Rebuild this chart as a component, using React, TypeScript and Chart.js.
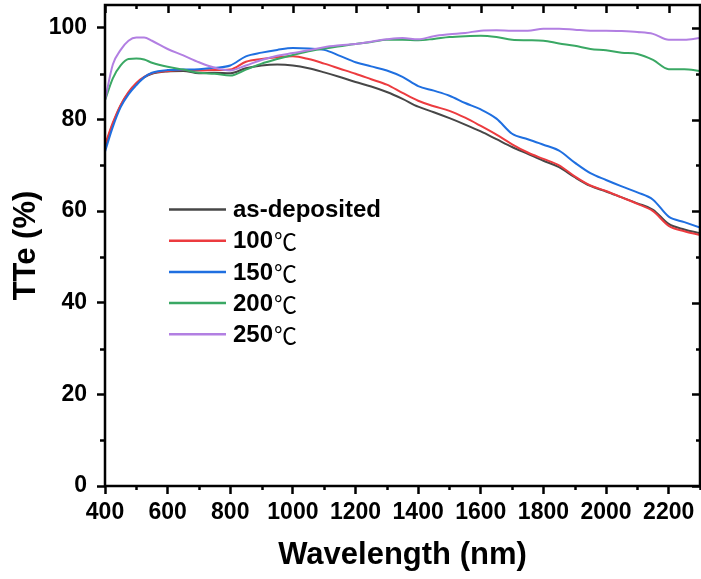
import React, { useEffect, useRef } from 'react';
import { Chart, registerables } from 'chart.js';

Chart.register(...registerables);

const wavelengths = [400, 425, 450, 475, 500, 525, 550, 600, 650, 700, 750, 800, 850, 900, 950, 1000, 1050, 1100, 1150, 1200, 1250, 1300, 1350, 1400, 1450, 1500, 1550, 1600, 1650, 1700, 1750, 1800, 1850, 1900, 1950, 2000, 2050, 2100, 2150, 2200, 2250, 2300];

const asDeposited = [74, 79, 83, 85.8, 87.8, 89.2, 90.0, 90.5, 90.6, 90.1, 90.2, 90.1, 91.2, 91.8, 92.0, 91.8, 91.2, 90.3, 89.3, 88.2, 87.2, 86.0, 84.5, 82.8, 81.6, 80.3, 78.9, 77.4, 75.7, 74.0, 72.5, 71.0, 69.6, 67.4, 65.5, 64.3, 63.0, 61.7, 60.3, 57.2, 56.0, 55.2];
const annealed100 = [74.5, 79.3, 83.2, 86.0, 88.0, 89.3, 90.1, 90.6, 90.8, 90.7, 90.8, 90.9, 92.6, 93.2, 93.6, 93.8, 93.2, 92.2, 91.1, 90.0, 88.8, 87.6, 85.8, 84.1, 82.9, 81.9, 80.4, 78.6, 76.7, 74.6, 72.8, 71.4, 70.0, 67.6, 65.6, 64.4, 63.0, 61.6, 60.0, 56.8, 55.6, 54.8];
const annealed150 = [73.0, 78.4, 82.7, 85.5, 87.5, 89.2, 90.2, 90.8, 90.9, 91.0, 91.3, 91.8, 93.8, 94.6, 95.2, 95.6, 95.5, 95.2, 93.9, 92.5, 91.6, 90.7, 89.3, 87.3, 86.3, 85.2, 83.6, 82.2, 80.2, 76.9, 75.7, 74.5, 73.2, 70.6, 68.3, 66.8, 65.4, 64.1, 62.5, 58.8, 57.6, 56.4];
const annealed200 = [84.2, 89.0, 91.8, 93.2, 93.3, 93.1, 92.4, 91.5, 90.9, 90.2, 90.0, 89.6, 90.9, 92.2, 93.2, 94.1, 94.9, 95.5, 96.0, 96.5, 96.9, 97.4, 97.4, 97.3, 97.6, 98.0, 98.2, 98.3, 98.0, 97.4, 97.3, 97.2, 96.6, 96.1, 95.4, 95.1, 94.6, 94.3, 93.0, 91.0, 91.0, 90.6];
const annealed250 = [84.2, 92.0, 95.2, 97.2, 97.9, 97.9, 97.2, 95.4, 94.0, 92.5, 91.3, 90.7, 91.8, 93.0, 93.9, 94.5, 95.1, 95.8, 96.2, 96.5, 97.0, 97.5, 97.8, 97.5, 98.2, 98.6, 98.9, 99.4, 99.5, 99.4, 99.4, 99.8, 99.8, 99.6, 99.4, 99.4, 99.3, 99.1, 98.7, 97.4, 97.4, 97.8];

const seriesNames = ['as-deposited', '100', '150', '200', '250'];
const seriesUnits = ['', '℃', '℃', '℃', '℃'];
const seriesValues = [asDeposited, annealed100, annealed150, annealed200, annealed250];
const seriesColors = ['#474747', '#ec3b3f', '#1f6fe0', '#3aa864', '#b27fe2'];

const xTickValues = [400, 600, 800, 1000, 1200, 1400, 1600, 1800, 2000, 2200];
const xMinorValues = [500, 700, 900, 1100, 1300, 1500, 1700, 1900, 2100, 2300];
const yTickValues = [0, 20, 40, 60, 80, 100];
const yMinorValues = [10, 30, 50, 70, 90];

const xTitle = 'Wavelength (nm)';
const yTitle = 'TTe (%)';

const FONT = "'Liberation Sans', Arial, Helvetica, sans-serif";

const framePlugin = {
  id: 'frameTicks',
  afterDraw(chart: any) {
    const { ctx, chartArea } = chart;
    const { left, right, top, bottom } = chartArea;
    const xs = chart.scales.x;
    const ys = chart.scales.y;
    ctx.save();
    ctx.strokeStyle = '#000';
    ctx.lineWidth = 2.5;
    ctx.lineCap = 'butt';
    ctx.beginPath();
    xTickValues.forEach((v) => {
      const px = Math.round(xs.getPixelForValue(v)) + 0.5;
      ctx.moveTo(px, top);
      ctx.lineTo(px, top + 8);
    });
    xMinorValues.forEach((v) => {
      const px = Math.round(xs.getPixelForValue(v)) + 0.5;
      ctx.moveTo(px, top);
      ctx.lineTo(px, top + 4);
      ctx.moveTo(px, bottom);
      ctx.lineTo(px, bottom + 4);
    });
    yTickValues.forEach((v) => {
      const py = Math.round(ys.getPixelForValue(v)) + 0.5;
      ctx.moveTo(right, py);
      ctx.lineTo(right - 8, py);
    });
    yMinorValues.forEach((v) => {
      const py = Math.round(ys.getPixelForValue(v)) + 0.5;
      ctx.moveTo(right, py);
      ctx.lineTo(right - 4, py);
      ctx.moveTo(left, py);
      ctx.lineTo(left - 5, py);
    });
    ctx.stroke();
    ctx.strokeRect(left, top, right - left, bottom - top);

    // legend
    const lx0 = left + 64;
    const lx1 = left + 121;
    const tx = left + 128;
    const ty0 = top + 204.5;
    const dy = 31.2;
    chart.data.datasets.forEach((ds: any, i: number) => {
      const y = ty0 + i * dy;
      ctx.strokeStyle = ds.borderColor;
      ctx.lineWidth = 2.5;
      ctx.beginPath();
      ctx.moveTo(lx0, y);
      ctx.lineTo(lx1, y);
      ctx.stroke();
      ctx.fillStyle = '#000';
      ctx.textBaseline = 'middle';
      ctx.textAlign = 'left';
      ctx.font = `bold 24px ${FONT}`;
      const name = seriesNames[i];
      ctx.fillText(name, tx, y + 1);
      const w = ctx.measureText(name).width;
      if (seriesUnits[i]) {
        ctx.font = `23px 'Noto Sans CJK SC', 'DejaVu Sans', sans-serif`;
        ctx.fillText(seriesUnits[i], tx + w + 1, y + 1);
      }
    });
    ctx.restore();
  },
};

export default function App() {
  const canvasRef = useRef<HTMLCanvasElement | null>(null);

  useEffect(() => {
    const canvas = canvasRef.current;
    if (!canvas) return;
    const chart = new Chart(canvas, {
      type: 'line',
      data: {
        labels: wavelengths,
        datasets: seriesValues.map((vals, i) => ({
          label: seriesNames[i] + seriesUnits[i],
          data: wavelengths.map((w, j) => ({ x: w, y: vals[j] })),
          borderColor: seriesColors[i],
          backgroundColor: seriesColors[i],
          borderWidth: 2,
          pointRadius: 0,
          fill: false,
          cubicInterpolationMode: 'monotone' as const,
          order: seriesValues.length - i,
        })),
      },
      options: {
        animation: false,
        responsive: false,
        devicePixelRatio: 1,
        events: [],
        layout: { padding: { top: 5, right: 1, left: 0, bottom: 0 } },
        plugins: {
          legend: { display: false },
          tooltip: { enabled: false },
          title: { display: false },
        },
        scales: {
          x: {
            type: 'linear',
            min: 400,
            max: 2300,
            border: { display: false },
            grid: {
              display: true,
              drawOnChartArea: false,
              drawTicks: true,
              tickLength: 8,
              tickWidth: 2.5,
              tickColor: '#000',
              color: '#000',
            },
            ticks: {
              autoSkip: false,
              maxRotation: 0,
              minRotation: 0,
              padding: 5,
              color: '#000',
              font: { family: FONT, size: 23, weight: 'bold' },
              callback: (v: any) => String(v),
            },
            afterBuildTicks: (s: any) => {
              s.ticks = xTickValues.map((v) => ({ value: v }));
            },
            afterFit: (s: any) => {
              s.height = 93;
              s.paddingLeft = 0;
              s.paddingRight = 0;
            },
            title: {
              display: true,
              text: xTitle,
              color: '#000',
              font: { family: FONT, size: 31, weight: 'bold' },
              padding: { top: 0, bottom: 5 },
            },
          },
          y: {
            type: 'linear',
            min: 0,
            max: 105,
            border: { display: false },
            grid: {
              display: true,
              drawOnChartArea: false,
              drawTicks: true,
              tickLength: 8,
              tickWidth: 2.5,
              tickColor: '#000',
              color: '#000',
            },
            ticks: {
              padding: 10,
              color: '#000',
              font: { family: FONT, size: 23, weight: 'bold' },
              callback: (v: any) => String(v),
            },
            afterBuildTicks: (s: any) => {
              s.ticks = yTickValues.map((v) => ({ value: v }));
            },
            afterFit: (s: any) => {
              s.width = 105;
              s.paddingTop = 0;
              s.paddingBottom = 0;
            },
            title: {
              display: true,
              text: yTitle,
              color: '#000',
              font: { family: FONT, size: 31, weight: 'bold' },
              padding: { top: 8, bottom: 0 },
            },
          },
        },
      },
      plugins: [framePlugin],
    });
    return () => chart.destroy();
  }, []);

  return (
    <div style={{ position: 'fixed', left: 0, top: 0, width: 701, height: 579, background: '#fff' }}>
      <canvas ref={canvasRef} width={701} height={579} style={{ display: 'block', width: 701, height: 579 }} />
    </div>
  );
}
